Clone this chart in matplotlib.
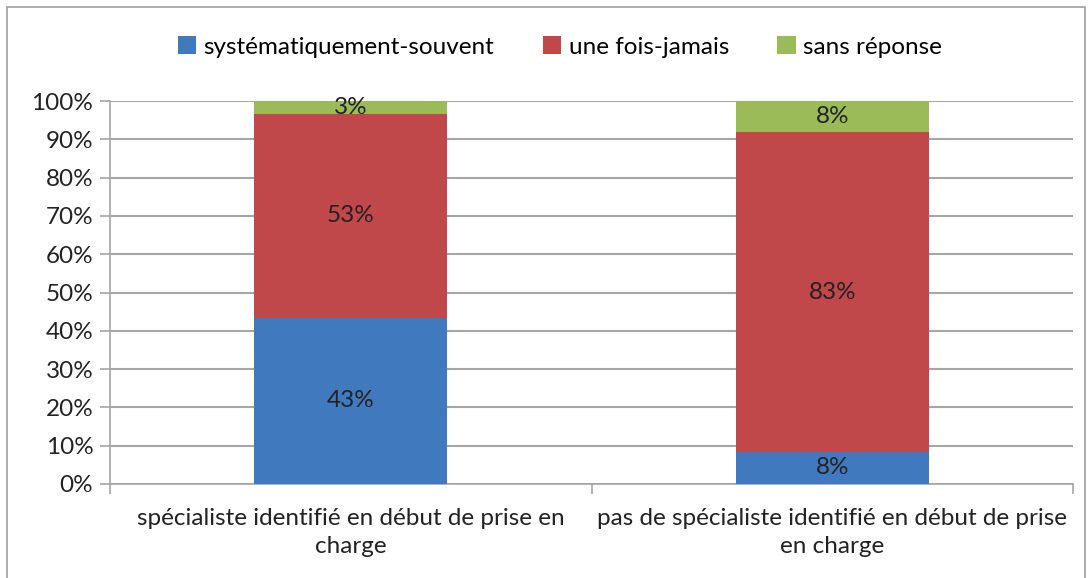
import matplotlib
matplotlib.use("Agg")
import matplotlib.pyplot as plt
from matplotlib.patches import Rectangle
import numpy as np

categories = ["spécialiste identifié en début de prise en\ncharge",
              "pas de spécialiste identifié en début de prise\nen charge"]
series_names = ["systématiquement-souvent", "une fois-jamais", "sans réponse"]
souvent = [43.4, 8.4]
jamais = [53.2, 83.4]
sans_rep = [3.4, 8.2]
colors = ["#4079BE", "#C0474A", "#9BBB59"]

plt.rcParams['font.family'] = ['Lato', 'DejaVu Sans']
FS = 17.5

fig = plt.figure(figsize=(10.9, 5.78), dpi=100)
W, H = 1090, 578
ax = fig.add_axes([110 / W, 1 - 484 / H, (1073 - 110) / W, (484 - 101) / H])

x = np.arange(len(categories))
bottom = np.zeros(len(categories))
for name, vals, c in zip(series_names, [souvent, jamais, sans_rep], colors):
    vals = np.array(vals)
    ax.bar(x, vals, 0.4, bottom=bottom, color=c, label=name, zorder=3)
    for xi, b, v in zip(x, bottom, vals):
        ax.text(xi, b + v / 2, f"{round(v):.0f}%", ha='center', va='center',
                fontsize=FS, color='#222222', zorder=4)
    bottom += vals

ax.set_xlim(-0.5, 1.5)
ax.set_ylim(0, 100)
ax.set_yticks(np.arange(0, 101, 10))
ax.set_yticklabels([f"{v}%" for v in range(0, 101, 10)], fontsize=FS, color='#222222')
ax.yaxis.grid(True, color='#A6A6A6', linewidth=1.5, zorder=0)
ax.set_xticks(x)
ax.set_xticklabels(categories, fontsize=FS, color='#222222', linespacing=1.45)
ax.tick_params(axis='x', length=0, pad=17)
ax.set_xticks([-0.5, 0.5, 1.5], minor=True)
ax.tick_params(axis='x', which='minor', length=7, color='#A6A6A6', width=1.2)
ax.tick_params(axis='y', length=7, color='#A6A6A6', width=1.2, pad=5)
for s in ['top', 'right']:
    ax.spines[s].set_visible(False)
ax.spines['left'].set_color('#A6A6A6')
ax.spines['bottom'].set_color('#A6A6A6')
ax.spines['left'].set_linewidth(1.2)
ax.spines['bottom'].set_linewidth(1.2)

fig.legend(loc='center', bbox_to_anchor=(560 / W, 1 - 47 / H), ncol=3, frameon=False,
           fontsize=FS, handlelength=0.75, handleheight=0.75, handletextpad=0.3,
           columnspacing=2.0)

fig.patches.append(Rectangle((7 / W, -0.05), (1085 - 7) / W, 1 - 7 / H + 0.05,
                             transform=fig.transFigure, fill=False,
                             edgecolor='#A0A0A0', linewidth=1.2))

fig.savefig("out.png", dpi=100)
